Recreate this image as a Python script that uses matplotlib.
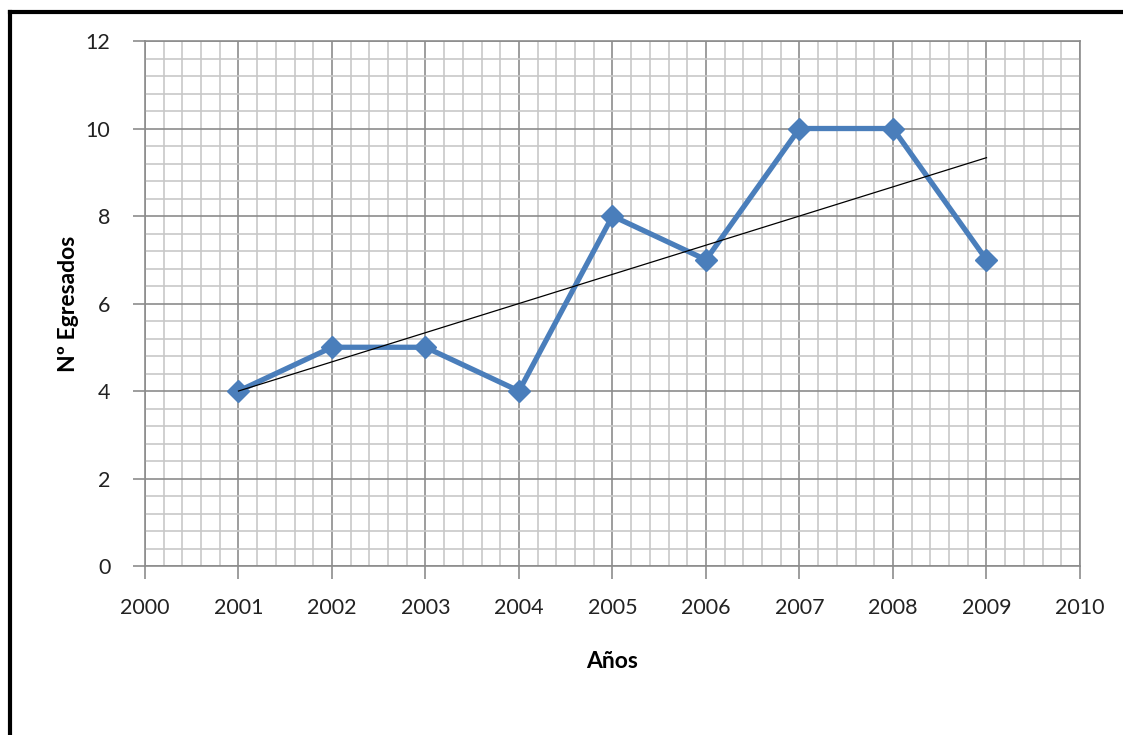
import matplotlib
matplotlib.use('Agg')
from matplotlib import pyplot as plt
from matplotlib.ticker import MultipleLocator
import numpy as np

# datos: egresados por año
anios = [2001, 2002, 2003, 2004, 2005, 2006, 2007, 2008, 2009]
egresados = [4, 5, 5, 4, 8, 7, 10, 10, 7]

plt.rcParams['font.family'] = ['Lato', 'DejaVu Sans']

fig = plt.figure(figsize=(11.23, 7.35), dpi=100)
ax = fig.add_axes([0.1291, 0.2299, 0.8326, 0.7143])

# cuadricula
ax.set_xlim(2000, 2010)
ax.set_ylim(0, 12)
ax.xaxis.set_major_locator(MultipleLocator(1))
ax.xaxis.set_minor_locator(MultipleLocator(0.2))
ax.yaxis.set_major_locator(MultipleLocator(2))
ax.yaxis.set_minor_locator(MultipleLocator(0.4))
ax.grid(which='minor', color='#c8c8c8', linewidth=1.2)
ax.grid(which='major', color='#8c8c8c', linewidth=1.2)
ax.set_axisbelow(True)
for s in ax.spines.values():
    s.set_color('#8c8c8c')
    s.set_linewidth(1.2)

ax.tick_params(which='major', direction='out', length=9, width=1.2,
               color='#8c8c8c', labelsize=15.5, labelcolor='#222222')
ax.tick_params(axis='x', which='major', pad=14)
ax.tick_params(axis='y', which='major', pad=16)
ax.tick_params(which='minor', length=0)

# serie y linea de tendencia
ax.plot(anios, egresados, color='#4A7EBB', linewidth=3.8, marker='D',
        markersize=11, zorder=3)
x = np.array(anios)
m, b = np.polyfit(x, egresados, 1)
ax.plot(x, m * x + b, color='black', linewidth=0.9, zorder=4)

ax.set_xlabel('Años', fontsize=16.5, fontweight='bold', labelpad=24)
ax.set_ylabel('Nº Egresados', fontsize=16.5, fontweight='bold', labelpad=5)

# marco negro
fig.add_artist(plt.Line2D([0.0085, 1.0], [0.9837, 0.9837], color='black',
                          linewidth=3, transform=fig.transFigure))
fig.add_artist(plt.Line2D([0.0085, 0.0085], [0.0, 0.9837], color='black',
                          linewidth=3, transform=fig.transFigure))

plt.savefig('out.png', dpi=100)
